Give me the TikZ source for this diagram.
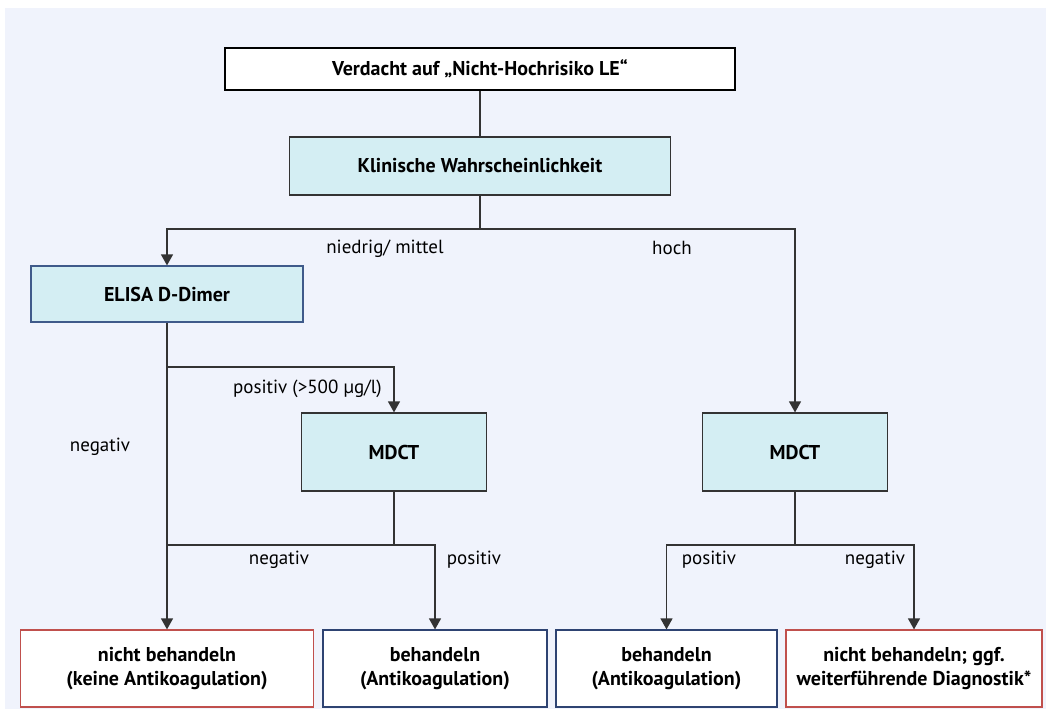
\documentclass[tikz,border=0pt]{standalone}
\usepackage{fontspec}
\setmainfont{PT Sans}
\usetikzlibrary{arrows.meta}
\definecolor{bgc}{HTML}{F0F3FC}
\definecolor{boxfill}{HTML}{D4EEF3}
\definecolor{linec}{HTML}{333333}
\definecolor{redb}{HTML}{C0504D}
\definecolor{blueb}{HTML}{2E4372}
\definecolor{elisab}{HTML}{3F5A8A}
\tikzset{
  base/.style={draw, line width=1.2pt, inner sep=0pt, align=center,
    font=\bfseries\fontsize{20}{24}\selectfont, text=black},
  whitebox/.style={base, fill=white, draw=black},
  cyanbox/.style={base, fill=boxfill, draw=linec},
  redbox/.style={base, fill=white, draw=redb},
  bluebox/.style={base, fill=white, draw=blueb},
  conn/.style={draw=linec, line width=1.3pt},
  arr/.style={conn, -{Triangle[width=12pt,length=11pt]}},
  lbl/.style={font=\fontsize{19}{22}\selectfont, text=black, inner sep=0pt}
}
\begin{document}
\begin{tikzpicture}[x=1pt,y=-1pt]
\useasboundingbox (0,0) rectangle (1048,709);
\fill[white] (0,0) rectangle (1048,709);
\fill[bgc] (5,8) rectangle (1046,709);

\node[whitebox, minimum width=510pt, minimum height=42pt] (top) at (480,69) {Verdacht auf „Nicht-Hochrisiko LE“};
\node[cyanbox, minimum width=381pt, minimum height=58pt] (kl) at (480,166) {Klinische Wahrscheinlichkeit};
\node[cyanbox, draw=elisab, minimum width=272pt, minimum height=56pt] (elisa) at (167,294) {ELISA D-Dimer};
\node[cyanbox, minimum width=185pt, minimum height=78pt] (m1) at (394,452) {MDCT};
\node[cyanbox, minimum width=185pt, minimum height=78pt] (m2) at (795,452) {MDCT};
\node[redbox, minimum width=293pt, minimum height=77pt] (b1) at (167,668.5) {nicht behandeln\\(keine Antikoagulation)};
\node[bluebox, minimum width=224pt, minimum height=77pt] (b2) at (435,668.5) {behandeln\\(Antikoagulation)};
\node[bluebox, minimum width=221pt, minimum height=77pt] (b3) at (666.5,668.5) {behandeln\\(Antikoagulation)};
\node[redbox, minimum width=256pt, minimum height=77pt] (b4) at (914,668.5) {nicht behandeln; ggf.\\weiterführende Diagnostik*};

\coordinate (j1) at (480,229);
\coordinate (j2) at (167,367);
\coordinate (j3) at (394,545);
\coordinate (j4) at (795,545);

\draw[conn] (top) -- (kl);
\draw[conn] (kl.south) -- (j1);
\draw[arr] (j1) -| (elisa.north);
\draw[arr] (j1) -| (m2.north);
\draw[arr] (elisa.south) -- (b1.north);
\draw[arr] (j2) -| (m1.north);
\draw[conn] (m1.south) -- (j3);
\draw[conn] (j3) -- (j3 -| b1.north);
\draw[arr] (j3) -| (b2.north);
\draw[conn] (m2.south) -- (j4);
\draw[arr] (j4) -| (b3.north);
\draw[arr] (j4) -| (b4.north);

\node[lbl] (l1) at (385,249) {niedrig/ mittel};
\node[lbl] (l2) at (672,248) {hoch};
\node[lbl, anchor=east] (l3) at (382,389) {positiv (>500 µg/l)};
\node[lbl] (l4) at (100,447) {negativ};
\node[lbl] (l5) at (279,560) {negativ};
\node[lbl] (l6) at (474,560) {positiv};
\node[lbl] (l7) at (709,560) {positiv};
\node[lbl] (l8) at (875,560) {negativ};
\end{tikzpicture}
\end{document}
